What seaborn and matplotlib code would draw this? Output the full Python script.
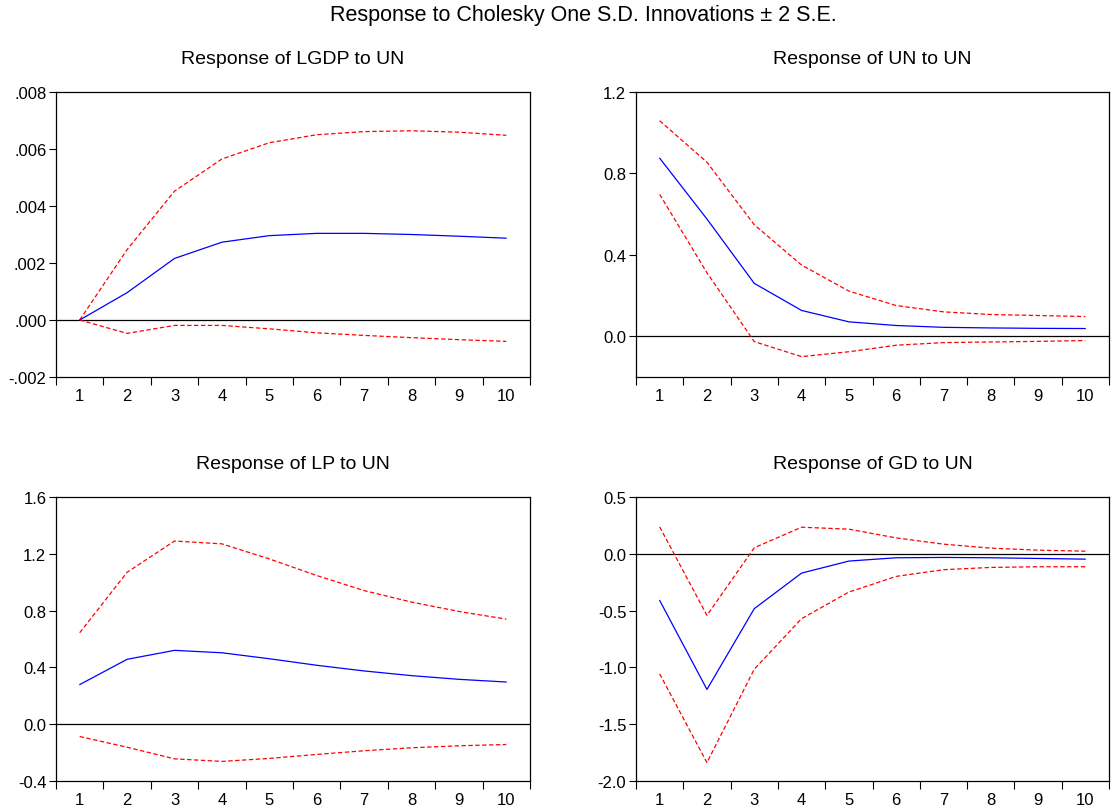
import numpy as np
import pandas as pd
import matplotlib
matplotlib.use("Agg")
import matplotlib.pyplot as plt
import seaborn as sns
from matplotlib.ticker import FuncFormatter, FixedLocator

periods = list(range(1, 11))

lgdp_resp = [0.0, 0.00096, 0.00216, 0.00273, 0.00296, 0.00304, 0.00304, 0.00300, 0.00294, 0.00287]
lgdp_up = [0.0, 0.00247, 0.00452, 0.00565, 0.00622, 0.00650, 0.00661, 0.00664, 0.00659, 0.00648]
lgdp_lo = [0.0, -0.00047, -0.00019, -0.00019, -0.00031, -0.00045, -0.00054, -0.00062, -0.00069, -0.00075]

un_resp = [0.875, 0.576, 0.260, 0.127, 0.071, 0.053, 0.044, 0.041, 0.039, 0.038]
un_up = [1.059, 0.855, 0.548, 0.350, 0.222, 0.151, 0.120, 0.107, 0.102, 0.097]
un_lo = [0.697, 0.312, -0.026, -0.100, -0.076, -0.044, -0.031, -0.028, -0.025, -0.021]

lp_resp = [0.279, 0.457, 0.520, 0.503, 0.461, 0.415, 0.375, 0.342, 0.316, 0.297]
lp_up = [0.644, 1.070, 1.290, 1.270, 1.164, 1.047, 0.941, 0.860, 0.794, 0.740]
lp_lo = [-0.087, -0.162, -0.244, -0.262, -0.241, -0.213, -0.187, -0.166, -0.152, -0.143]

gd_resp = [-0.410, -1.194, -0.483, -0.170, -0.064, -0.035, -0.032, -0.035, -0.041, -0.047]
gd_up = [0.237, -0.542, 0.053, 0.234, 0.217, 0.140, 0.085, 0.050, 0.032, 0.023]
gd_lo = [-1.057, -1.838, -1.016, -0.571, -0.337, -0.199, -0.140, -0.120, -0.114, -0.114]

titles = ["Response of LGDP to UN", "Response of UN to UN",
          "Response of LP to UN", "Response of GD to UN"]
suptitle = "Response to Cholesky One S.D. Innovations \u00b1 2 S.E."

ylims = [(-0.002, 0.008), (-0.2, 1.2), (-0.4, 1.6), (-2.0, 0.5)]
yticks = [[-0.002, 0.0, 0.002, 0.004, 0.006, 0.008],
          [0.0, 0.4, 0.8, 1.2],
          [-0.4, 0.0, 0.4, 0.8, 1.2, 1.6],
          [-2.0, -1.5, -1.0, -0.5, 0.0, 0.5]]

sns.set_theme(style="white")
plt.rcParams['font.family'] = ['Liberation Sans', 'DejaVu Sans']
plt.rcParams['axes.unicode_minus'] = False

fig = plt.figure(figsize=(11.12, 8.12), dpi=100)
W, H = 1112, 812
boxes = [(56, 93, 530, 378), (636, 93, 1109, 378),
         (56, 498, 530, 782), (636, 498, 1109, 782)]

series = [(lgdp_resp, lgdp_up, lgdp_lo), (un_resp, un_up, un_lo),
          (lp_resp, lp_up, lp_lo), (gd_resp, gd_up, gd_lo)]

def fmt_lgdp(v, pos):
    s = "%.3f" % v
    if s.startswith("0."):
        s = s[1:]
    elif s.startswith("-0."):
        s = "-" + s[2:]
    return s

for i, (box, (r, u, l)) in enumerate(zip(boxes, series)):
    x0, y0, x1, y1 = box
    ax = fig.add_axes([x0 / W, 1 - y1 / H, (x1 - x0) / W, (y1 - y0) / H])
    df = pd.DataFrame({"period": periods * 3,
                       "value": r + u + l,
                       "series": ["resp"] * 10 + ["up"] * 10 + ["lo"] * 10})
    ax.axhline(0, color="black", lw=0.9, zorder=1)
    sns.lineplot(data=df[df.series == "up"], x="period", y="value", ax=ax,
                 color="#ff0000", lw=0.9, linestyle=(0, (3.5, 2)), zorder=2)
    sns.lineplot(data=df[df.series == "lo"], x="period", y="value", ax=ax,
                 color="#ff0000", lw=0.9, linestyle=(0, (3.5, 2)), zorder=2)
    sns.lineplot(data=df[df.series == "resp"], x="period", y="value", ax=ax,
                 color="#0000ff", lw=0.9, zorder=3)
    ax.set_xlim(0.5, 10.5)
    ax.set_ylim(*ylims[i])
    ax.set_xlabel("")
    ax.set_ylabel("")
    ax.set_xticks(periods)
    ax.set_xticklabels([str(p) for p in periods])
    ax.xaxis.set_minor_locator(FixedLocator(np.arange(0.5, 11, 1.0)))
    ax.tick_params(axis="x", which="major", length=0, pad=8, labelsize=12, colors="black")
    ax.tick_params(axis="x", which="minor", length=6, width=0.8, direction="out", bottom=True, color="black")
    ax.set_yticks(yticks[i])
    if i == 0:
        ax.yaxis.set_major_formatter(FuncFormatter(fmt_lgdp))
    else:
        ax.yaxis.set_major_formatter(FuncFormatter(lambda v, p: "%.1f" % v))
    ax.tick_params(axis="y", which="major", length=5, width=0.8, direction="out", left=True,
                   labelsize=12, pad=2, colors="black")
    for sp in ax.spines.values():
        sp.set_color("black")
        sp.set_linewidth(0.9)
    ax.set_title(titles[i], fontsize=14, pad=21, color="black")

fig.suptitle(suptitle, fontsize=15.5, x=583 / W, y=1 - 15 / H, va="center", color="black")
fig.savefig("out.png", dpi=100, facecolor="white")
